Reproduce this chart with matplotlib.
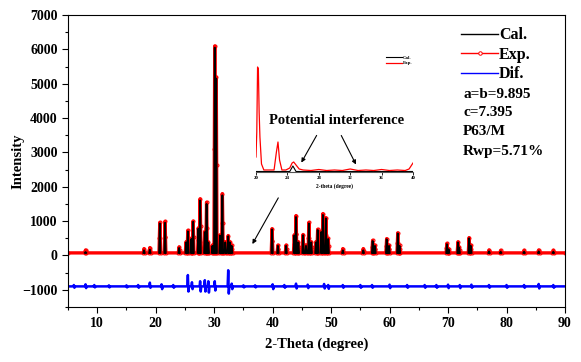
import numpy as np
import matplotlib
matplotlib.use('Agg')
import matplotlib.pyplot as plt
from matplotlib.ticker import MultipleLocator

# ---- main pattern: peak positions (2-theta) and heights
base_exp = 75
peak_pos = [8.0, 18.0, 19.0, 20.7, 21.6, 24.0, 25.2, 25.5, 26.1, 26.4, 27.3, 27.6,
            28.4, 28.7, 29.0, 29.7, 30.1, 30.35, 31.0, 31.4, 31.9, 32.4, 32.7, 33.0,
            39.9, 40.9, 42.3, 43.7, 44.0, 44.4, 45.2, 45.7, 46.2, 46.6, 47.4, 47.7,
            48.3, 48.6, 49.1, 49.5, 52.0, 55.5, 57.1, 57.5, 59.5, 59.9, 61.4, 61.7,
            69.8, 70.1, 71.7, 71.9, 73.6, 73.9, 77.0, 79.0, 83.0, 85.5, 88.0]
exp_height = [160, 200, 230, 960, 990, 250, 400, 730, 500, 1000, 800, 1650,
              700, 1550, 400, 300, 6100, 5200, 600, 1800, 400, 580, 400, 300,
              780, 300, 300, 600, 1160, 400, 610, 300, 960, 400, 400, 760,
              700, 1220, 1100, 500, 200, 200, 440, 300, 490, 300, 660, 300,
              350, 200, 400, 250, 520, 300, 160, 150, 150, 160, 150]
cal_height = [100, 150, 170, 930, 950, 220, 380, 700, 480, 980, 780, 1600,
              680, 1500, 380, 280, 6050, 5150, 580, 1750, 380, 560, 380, 280,
              760, 280, 280, 580, 1120, 380, 590, 280, 930, 380, 380, 740,
              680, 1180, 1080, 480, 150, 150, 420, 280, 470, 280, 640, 280,
              330, 180, 380, 230, 500, 280, 120, 110, 110, 120, 110]

# ---- difference curve: offset and spikes (position, up, down)
dif_base = -900
dif_pos = [6, 8, 9.5, 12, 15, 17, 19, 21, 23, 25.5, 26.2, 27.6, 28.4, 29.0, 30.1,
           32.4, 33.0, 35, 37, 40, 42, 44, 46, 48.8, 49.5, 52, 55, 57, 60, 63, 66,
           68, 70, 72, 74, 77, 80, 83, 85.5, 88]
dif_up = [40, 60, 40, 30, 30, 40, 110, 60, 40, 330, 120, 150, 180, 150, 150,
          470, 80, 30, 30, 60, 40, 80, 50, 70, 40, 40, 40, 40, 50, 40, 40,
          40, 50, 40, 50, 40, 40, 40, 70, 40]
dif_down = [40, 50, 30, 30, 30, 40, 40, 80, 40, 150, 80, 150, 150, 180, 120,
            210, 80, 30, 30, 80, 40, 60, 50, 60, 70, 40, 40, 40, 50, 40, 40,
            40, 50, 50, 40, 40, 40, 40, 60, 40]

# ---- inset pattern
ins_x = [20.0, 20.1, 20.2, 20.3, 20.4, 20.5, 20.7, 21.0, 22.3, 22.6, 22.8, 23.0,
         23.3, 23.8, 24.3, 24.6, 24.8, 25.1, 25.5, 26, 27, 28, 29, 30, 31, 32,
         33, 34, 35, 36, 37, 38, 39, 39.5, 40]
ins_exp = [15, 40, 105, 103, 60, 35, 8, 2, 2, 20, 30, 12,
           2, 2, 4, 9, 10, 7, 3, 2, 1.5, 2.5, 1.5, 2, 1.5, 3,
           1.5, 2, 1.5, 2.5, 1.5, 2, 1.5, 3, 9]
ins_cal_x = [20, 24.3, 24.7, 25.1, 40]
ins_cal = [0.5, 0.5, 6, 0.5, 0.5]
ins_ticks = [20, 24, 28, 32, 36, 40]

params = ['a=b=9.895', 'c=7.395', 'P63/M', 'Rwp=5.71%']

W, H = 581, 362
SERIF = ['Liberation Serif', 'DejaVu Serif']


def fx(px):
    return px / W


def fy(py):
    return 1 - py / H


def profile(pos, heights, base, w):
    xs, ys = [5.0], [base]
    for p, h in sorted(zip(pos, heights)):
        xs += [p - w, p - w / 2, p, p + w / 2, p + w]
        ys += [base, base + (h - base) / 2, h, base + (h - base) / 2, base]
    xs.append(90.0)
    ys.append(base)
    return np.array(xs), np.array(ys)


def peak_segments(pos, heights, base, w):
    xs, ys = [], []
    for p, h in sorted(zip(pos, heights)):
        xs += [p - w, p, p + w, np.nan]
        ys += [base, h, base, np.nan]
    return np.array(xs), np.array(ys)


def dif_curve():
    xs, ys = [5.0], [dif_base]
    for p, u, d in sorted(zip(dif_pos, dif_up, dif_down)):
        xs += [p - 0.1, p, p + 0.1, p + 0.2]
        ys += [dif_base, dif_base + u, dif_base - d, dif_base]
    xs.append(90.0)
    ys.append(dif_base)
    return xs, ys


plt.rcParams['font.family'] = SERIF
plt.rcParams['font.weight'] = 'bold'

fig = plt.figure(figsize=(W / 100, H / 100), dpi=100)
ax = fig.add_axes([fx(68), fy(307), fx(565 - 68), (307 - 15) / H])

ex, ey = profile(peak_pos, exp_height, base_exp, 0.14)
cx, cy = peak_segments(peak_pos, cal_height, base_exp, 0.12)
dx, dy = dif_curve()

ax.plot(ex, ey, color='red', lw=2.4, marker='o', ms=2.2, mfc='none', mew=0.7,
        zorder=2)
ax.plot(cx, cy, color='black', lw=1.3, zorder=3)
ax.plot(dx, dy, color='blue', lw=1.8, zorder=2)

ax.set_xlim(5, 90)
ax.set_ylim(-1500, 7000)
ax.xaxis.set_major_locator(MultipleLocator(10))
ax.xaxis.set_minor_locator(MultipleLocator(5))
ax.yaxis.set_major_locator(MultipleLocator(1000))
ax.yaxis.set_minor_locator(MultipleLocator(500))
ax.tick_params(which='both', direction='out', top=False, right=False,
               labelsize=10, width=0.8)
ax.tick_params(which='major', length=4)
ax.tick_params(which='minor', length=2)
for lab in ax.get_xticklabels() + ax.get_yticklabels():
    lab.set_fontweight('bold')
ax.set_xlabel('2-Theta (degree)', fontsize=10.5, fontweight='bold', labelpad=5)
ax.set_ylabel('Intensity', fontsize=10.5, fontweight='bold')
ax.yaxis.set_label_coords(-0.087, 0.5)

# legend handles
h_cal, = ax.plot([], [], color='black', lw=1.0)
h_exp, = ax.plot([], [], color='red', lw=1.0, marker='o', ms=2.5, mfc='white',
                 mew=0.7)
h_dif, = ax.plot([], [], color='blue', lw=1.0)
leg = ax.legend([h_cal, h_exp, h_dif], ['Cal.', 'Exp.', 'Dif.'],
                loc='upper left', bbox_to_anchor=(fx(447), fy(13)),
                bbox_transform=fig.transFigure, frameon=False, numpoints=1,
                handlelength=2.3, handletextpad=0.05, labelspacing=0.22,
                prop={'family': SERIF, 'weight': 'bold', 'size': 11.5})

for i, t in enumerate(params):
    fig.text(fx(463), fy(94 + 19 * i), t, fontsize=11, fontweight='bold',
             va='center', ha='left')

# inset
ins = fig.add_axes([fx(256), fy(172), fx(157), 122 / H])
ins.patch.set_alpha(0)
ins.plot(ins_cal_x, ins_cal, color='black', lw=0.8, label='Cal.')
ins.plot(ins_x, ins_exp, color='red', lw=0.9, label='Exp.')
ins.set_xlim(20, 40)
ins.set_ylim(0, 122)
for s in ['top', 'left', 'right']:
    ins.spines[s].set_visible(False)
ins.spines['bottom'].set_linewidth(0.8)
ins.spines['bottom'].set_color('#555555')
ins.set_yticks([])
ins.set_xticks(ins_ticks)
ins.tick_params(axis='x', labelsize=3.5, length=2, width=0.6, pad=1)
ins.set_xlabel('2-theta (degree)', fontsize=4, fontweight='bold', labelpad=2)
ins.legend(loc='upper left', bbox_to_anchor=(0.80, 0.99), frameon=False,
           fontsize=3.5, handlelength=3.2, handletextpad=0.3, labelspacing=0.2)

# annotations
fig.text(fx(337), fy(121), 'Potential interference', fontsize=10.5,
         fontweight='bold', ha='center', va='center')
arrow = dict(arrowstyle='-|>', color='black', lw=0.8, mutation_scale=6)
ins.annotate('', xy=(25.6, 7), xycoords='data',
             xytext=(fx(318), fy(133)), textcoords='figure fraction',
             arrowprops=arrow)
ins.annotate('', xy=(32.9, 5), xycoords='data',
             xytext=(fx(340), fy(133)), textcoords='figure fraction',
             arrowprops=arrow)
ax.annotate('', xy=(36.3, 262), xycoords='data',
            xytext=(41.2, 1747), textcoords='data', arrowprops=arrow)

fig.savefig('out.png', dpi=100)
